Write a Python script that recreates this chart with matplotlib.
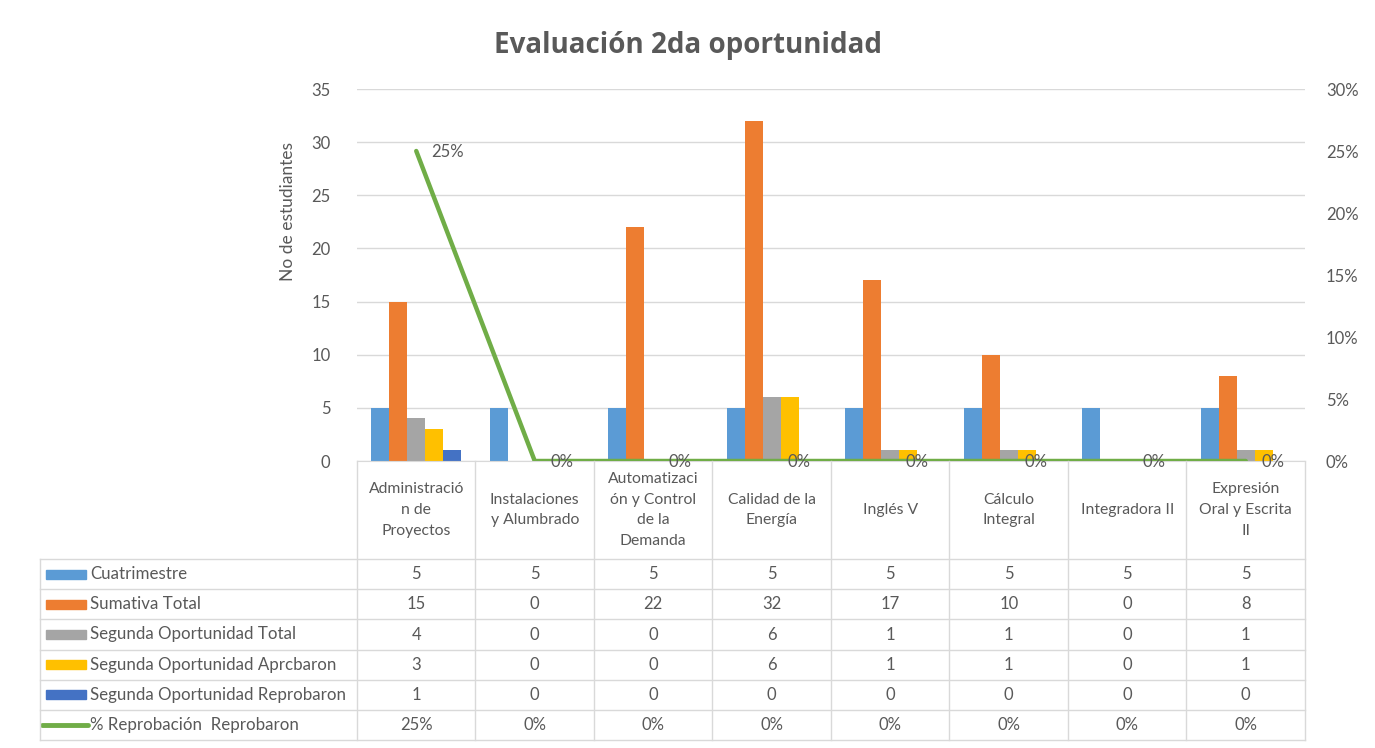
import numpy as np
import matplotlib.pyplot as plt
from matplotlib.patches import Rectangle
from matplotlib.lines import Line2D
from matplotlib.ticker import PercentFormatter
from matplotlib.transforms import blended_transform_factory

plt.rcParams['font.family'] = ['Lato', 'DejaVu Sans']

# datos
materias = ['Administració\nn de\nProyectos', 'Instalaciones\ny Alumbrado',
            'Automatizaci\nón y Control\nde la\nDemanda', 'Calidad de la\nEnergía',
            'Inglés V', 'Cálculo\nIntegral', 'Integradora II',
            'Expresión\nOral y Escrita\nII']
cuatrimestre = [5, 5, 5, 5, 5, 5, 5, 5]
sumativa_total = [15, 0, 22, 32, 17, 10, 0, 8]
segunda_total = [4, 0, 0, 6, 1, 1, 0, 1]
segunda_aprobaron = [3, 0, 0, 6, 1, 1, 0, 1]
segunda_reprobaron = [1, 0, 0, 0, 0, 0, 0, 0]
pct_reprobacion = [0.25, 0, 0, 0, 0, 0, 0, 0]

nombres = ['Cuatrimestre', 'Sumativa Total', 'Segunda Oportunidad Total',
           'Segunda Oportunidad Aprcbaron', 'Segunda Oportunidad Reprobaron']
nombre_linea = '% Reprobación  Reprobaron'
colores = ['#5B9BD5', '#ED7D31', '#A5A5A5', '#FFC000', '#4472C4']
verde = '#70AD47'
gris_txt = '#595959'
gris_linea = '#D9D9D9'

series = [cuatrimestre, sumativa_total, segunda_total, segunda_aprobaron, segunda_reprobaron]

W, H = 1375, 748
fig = plt.figure(figsize=(W / 100, H / 100), dpi=100)
def fy(px):
    return 1 - px / H

ax = fig.add_axes([357 / W, fy(461), (1305 - 357) / W, (461 - 89) / H])
x = np.arange(len(materias)) + 0.5
w = 0.152
for i, (vals, col) in enumerate(zip(series, colores)):
    ax.bar(x + (i - 2) * w, vals, width=w, color=col, zorder=2)

ax.set_xlim(0, len(materias))
ax.set_ylim(0, 35)
ax.set_yticks(range(0, 36, 5))
ax.set_xticks([])
ax.grid(axis='y', color=gris_linea, lw=1)
ax.set_axisbelow(True)
for s in ['top', 'right', 'left']:
    ax.spines[s].set_visible(False)
ax.spines['bottom'].set_color(gris_linea)
ax.tick_params(axis='y', length=0, pad=19, labelsize=12, labelcolor=gris_txt)
ax.set_ylabel('No de estudiantes', fontsize=12.5, color=gris_txt)
ax.yaxis.set_label_coords(-0.064, 0.67)

ax2 = ax.twinx()
ax2.plot(x, pct_reprobacion, color=verde, lw=3.2, solid_capstyle='round', zorder=3)
ax2.set_ylim(0, 0.30)
ax2.set_yticks(np.arange(0, 0.31, 0.05))
ax2.yaxis.set_major_formatter(PercentFormatter(1.0, decimals=0))
ax2.tick_params(axis='y', length=0, pad=15, labelsize=12, labelcolor=gris_txt)
for s in ax2.spines.values():
    s.set_visible(False)
for xi, p in zip(x, pct_reprobacion):
    ax2.annotate(f'{p:.0%}', (xi, p), xytext=(11, -1), textcoords='offset points',
                 ha='left', va='center', fontsize=12, color=gris_txt)

fig.text(0.5, fy(45), 'Evaluación 2da oportunidad', ha='center', va='center',
         fontsize=20, fontweight='bold', color=gris_txt, family=['Open Sans', 'DejaVu Sans'])

# tabla de datos
trans = blended_transform_factory(ax.transData, fig.transFigure)
for xi, lab in zip(x, materias):
    ax.text(xi, fy(510), lab, transform=trans, ha='center', va='center',
            fontsize=11.3, color=gris_txt, linespacing=1.6)

row_h = 30.2
top = 559
filas = series + [pct_reprobacion]
etiquetas = nombres + [nombre_linea]
for k, (vals, lab) in enumerate(zip(filas, etiquetas)):
    yc = fy(top + row_h * (k + 0.5))
    if k < len(series):
        fig.patches.append(Rectangle((46 / W, yc - 4.5 / H), 40 / W, 9 / H,
                                     transform=fig.transFigure, color=colores[k]))
    else:
        fig.lines.append(Line2D([42 / W, 88 / W], [yc, yc], transform=fig.transFigure,
                                color=verde, lw=3.5, solid_capstyle='round'))
    fig.text(90 / W, yc, lab, ha='left', va='center', fontsize=12.2, color=gris_txt)
    for xi, v in zip(x, vals):
        txt = f'{v:.0%}' if k == len(series) else str(v)
        ax.text(xi, yc, txt, transform=trans, ha='center', va='center',
                fontsize=12, color=gris_txt)

x_right = ax.get_position().x1
for k in range(len(filas) + 1):
    yl = fy(top + row_h * k)
    fig.lines.append(Line2D([40 / W, x_right], [yl, yl], transform=fig.transFigure,
                            color=gris_linea, lw=1))
for b in range(len(materias) + 1):
    fig.lines.append(Line2D([b, b], [fy(461), fy(top + row_h * len(filas))],
                            transform=trans, color=gris_linea, lw=1))
fig.lines.append(Line2D([40 / W, 40 / W], [fy(top), fy(top + row_h * len(filas))],
                        transform=fig.transFigure, color=gris_linea, lw=1))

fig.savefig('out.png', dpi=100, facecolor='white')
